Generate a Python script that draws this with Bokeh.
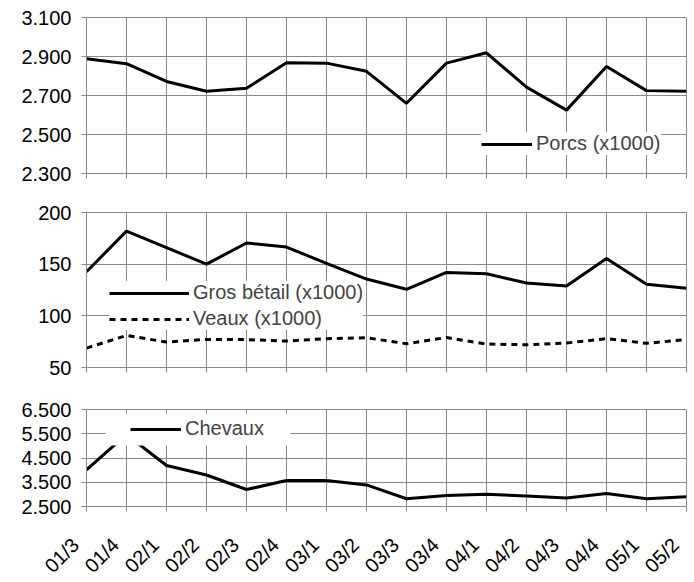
import math
from bokeh.plotting import figure
from bokeh.models import (Range1d, FixedTicker, Legend, LegendItem, ColumnDataSource,
                          BoxAnnotation)
from bokeh.core.properties import value
from bokeh.layouts import column
from bokeh.embed import file_html
from bokeh.resources import INLINE

# ---- data ----
categories = ["01/3", "01/4", "02/1", "02/2", "02/3", "02/4", "03/1", "03/2",
              "03/3", "03/4", "04/1", "04/2", "04/3", "04/4", "05/1", "05/2"]
porcs = [2888, 2863, 2772, 2722, 2737, 2868, 2866, 2824,
         2660, 2866, 2919, 2743, 2625, 2849, 2725, 2722]
gros_betail = [142.6, 182, 166, 150, 170.5, 166.6, 150.7, 135.6,
               125.7, 142, 140.7, 131.7, 128.8, 155.5, 130.5, 126.6]
veaux = [68.8, 81, 74.6, 77.2, 77, 75.6, 77.9, 78.8,
         73, 79, 72.7, 72, 73.7, 77.9, 73.4, 77]
chevaux = [4010, 5470, 4190, 3800, 3200, 3570, 3570, 3390,
           2820, 2950, 3010, 2930, 2850, 3040, 2820, 2900]

porcs_ticks = [2300, 2500, 2700, 2900, 3100]
porcs_tick_labels = ["2.300", "2.500", "2.700", "2.900", "3.100"]
betail_ticks = [50, 100, 150, 200]
betail_tick_labels = ["50", "100", "150", "200"]
chevaux_ticks = [2500, 3500, 4500, 5500, 6500]
chevaux_tick_labels = ["2.500", "3.500", "4.500", "5.500", "6.500"]

xs = list(range(len(categories)))

FONT = "Liberation Sans"
GRID = "#8a8a8a"
FS = "20px"
W = 692
BL, BR = 86, 6          # left / right borders of the plot frames


def make_fig(height, btop, bbottom, yticks, ylabels):
    p = figure(width=W, height=height, output_backend="svg", toolbar_location=None,
               x_range=Range1d(0, len(categories) - 1),
               y_range=Range1d(yticks[0], yticks[-1]),
               min_border_left=BL, min_border_right=BR,
               min_border_top=btop, min_border_bottom=bbottom)
    p.outline_line_color = GRID
    p.background_fill_color = "white"
    p.border_fill_color = "white"
    p.yaxis.ticker = FixedTicker(ticks=yticks)
    p.yaxis.major_label_overrides = {t: l for t, l in zip(yticks, ylabels)}
    p.xaxis.ticker = FixedTicker(ticks=xs)
    for ax in (p.xaxis, p.yaxis):
        ax.axis_line_color = GRID
        ax.major_tick_line_color = GRID
        ax.major_tick_out = 5
        ax.major_tick_in = 0
        ax.minor_tick_line_color = None
        ax.major_label_text_font = FONT
        ax.major_label_text_font_size = FS
        ax.major_label_text_color = "black"
    p.yaxis.major_label_standoff = 10
    # x tick marks only; category labels drawn in a strip below
    p.xaxis.major_label_text_color = None
    p.xaxis.major_label_text_font_size = "1px"
    p.xaxis.major_label_standoff = 0
    p.xgrid.grid_line_color = GRID
    p.ygrid.grid_line_color = GRID
    p.xgrid.ticker = FixedTicker(ticks=xs)
    p.ygrid.ticker = FixedTicker(ticks=yticks)
    return p


def add_legend(p, items, x, y, glyph_width, padding=8):
    lg = Legend(items=items, location=(x, y), background_fill_color="white",
                background_fill_alpha=1.0, border_line_color=None,
                label_text_font=FONT, label_text_font_size=FS,
                glyph_width=glyph_width, label_standoff=4, padding=padding,
                spacing=3, margin=0)
    p.add_layout(lg, "center")


# top panel: Porcs  (frame y 17..173)
p1 = make_fig(190, 17, 17, porcs_ticks, porcs_tick_labels)
r1 = p1.line(xs, porcs, line_color="black", line_width=3)
add_legend(p1, [LegendItem(label="Porcs (x1000)", renderers=[r1])], 395, 18, 51)

# middle panel: Gros bétail & Veaux  (frame y 212..367)
p2 = make_fig(195, 22, 18, betail_ticks, betail_tick_labels)
r2 = p2.line(xs, gros_betail, line_color="black", line_width=3)
r3 = p2.line(xs, veaux, line_color="black", line_width=3, line_dash="6 5")
add_legend(p2, [LegendItem(label="Gros bétail (x1000)", renderers=[r2]),
                LegendItem(label="Veaux (x1000)", renderers=[r3])], 23, 37, 80)

# bottom panel: Chevaux  (frame y 409..506)
p3 = make_fig(135, 24, 14, chevaux_ticks, chevaux_tick_labels)
r4 = p3.line(xs, chevaux, line_color="black", line_width=3)
# wider white legend background (screen units, relative to the frame)
p3.add_layout(BoxAnnotation(left=19, right=204, bottom=61, top=93,
                            left_units="screen", right_units="screen",
                            bottom_units="screen", top_units="screen",
                            fill_color="white", fill_alpha=1.0, line_color=None))
add_legend(p3, [LegendItem(label="Chevaux", renderers=[r4])], 44, 66, 51)

# category label strip: same x scale as the panels, frame spanning full width
n = len(categories) - 1
frame_w = W - BL - BR
px_per_unit = frame_w / n
strip_h = 60
p4 = figure(width=W, height=strip_h, output_backend="svg", toolbar_location=None,
            x_range=Range1d(-BL / px_per_unit, n + BR / px_per_unit),
            y_range=Range1d(0, strip_h),
            min_border_left=0, min_border_right=0, min_border_top=0, min_border_bottom=0)
try:
    p4.frame_align = False
except Exception:
    pass
p4.axis.visible = False
p4.grid.visible = False
p4.outline_line_color = None
p4.background_fill_color = "white"
p4.border_fill_color = "white"
src = ColumnDataSource(dict(x=xs, text=categories))
p4.text(x="x", y=39, text="text", source=src, angle=math.pi / 4,
        x_offset=-11, text_align="right", text_baseline="middle",
        text_font=value(FONT), text_font_size=value(FS), text_color="black")

layout = column(p1, p2, p3, p4, spacing=0)
open("out.html", "w").write(file_html(layout, INLINE))
